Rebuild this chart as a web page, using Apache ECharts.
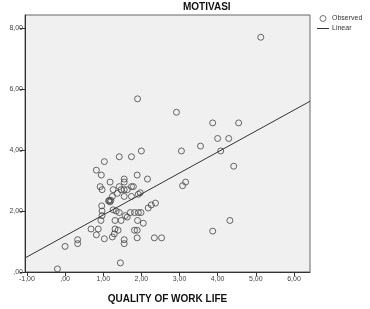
<!DOCTYPE html>
<html>
<head>
<meta charset="utf-8">
<script src="https://cdn.jsdelivr.net/npm/echarts@6/dist/echarts.min.js"></script>
<style>
  html, body { margin: 0; padding: 0; background: #fff; }
  #chart { width: 370px; height: 309px; }
</style>
</head>
<body>
<div id="chart"></div>
<script>
// observed points: [quality of work life, motivasi]
const observed = [
  [-0.2, 0.1], [0.0, 0.84], [0.33, 1.06], [0.33, 0.93], [1.45, 0.3],
  [1.03, 3.62], [1.42, 3.78], [1.74, 3.78], [0.82, 3.34], [0.95, 3.18],
  [1.18, 2.95], [1.55, 3.05], [1.55, 2.95], [1.89, 3.18], [2.16, 3.05],
  [0.92, 2.8], [0.97, 2.7], [1.26, 2.7], [1.42, 2.8], [1.47, 2.7],
  [1.55, 2.7], [1.63, 2.7], [1.74, 2.8], [1.79, 2.8], [1.37, 2.58],
  [1.55, 2.48], [1.74, 2.48], [1.92, 2.55], [1.97, 2.6], [1.24, 2.48],
  [1.2, 2.35], [1.16, 2.35], [1.14, 2.33], [1.18, 2.3], [0.96, 2.17],
  [0.97, 2.0], [0.97, 1.85], [0.94, 1.69], [1.26, 2.04], [1.34, 2.0],
  [1.42, 1.95], [1.31, 1.69], [1.47, 1.69], [1.58, 1.85], [1.71, 1.95],
  [1.82, 1.95], [1.92, 1.95], [1.99, 1.95], [1.63, 1.8], [1.9, 1.69],
  [2.05, 1.6], [2.18, 2.1], [2.26, 2.2], [2.37, 2.26], [0.68, 1.41],
  [0.87, 1.41], [0.82, 1.22], [1.03, 1.09], [1.29, 1.25], [1.24, 1.15],
  [1.31, 1.41], [1.39, 1.37], [1.55, 1.06], [1.55, 0.93], [1.82, 1.37],
  [1.89, 1.37], [1.89, 1.12], [2.34, 1.12], [2.53, 1.12],
  [1.9, 5.68], [2.92, 5.24], [5.13, 7.7], [3.87, 4.89], [4.55, 4.89],
  [4.0, 4.38], [4.29, 4.38], [3.55, 4.13], [3.05, 3.97], [2.0, 3.97],
  [4.08, 3.97], [4.42, 3.47], [3.08, 2.83], [3.16, 2.95], [4.32, 1.69],
  [3.87, 1.34]
];
// linear fit line, ends read at the plot edges
const fitLine = [[-1.05, 0.46], [6.42, 5.6]];
const xTicks = [-1, 0, 1, 2, 3, 4, 5, 6];
const yTicks = [0, 2, 4, 6, 8];

const fmt = (v) => v === 0 ? ',00' : v.toFixed(2).replace('.', ',');

const myChart = echarts.init(document.getElementById('chart'));

const options = {
  animation: false,
  textStyle: { fontFamily: 'Liberation Sans, Arial, sans-serif' },
  title: {
    text: 'MOTIVASI',
    left: 183,
    top: 2,
    padding: 0,
    textStyle: { fontSize: 10, fontWeight: 'bold', color: '#111' }
  },
  legend: {
    orient: 'vertical',
    left: 317,
    top: 15,
    padding: 0,
    itemGap: 3,
    itemWidth: 12,
    itemHeight: 6,
    textStyle: { fontSize: 7, color: '#333', padding: [0, 0, 0, -2] },
    data: [
      { name: 'Observed', icon: 'circle', itemStyle: { color: 'rgba(0,0,0,0)', borderColor: '#555', borderWidth: 1 } },
      { name: 'Linear', icon: 'path://M0,0 L12,0 L12,1 L0,1 Z', itemStyle: { color: '#333' } }
    ]
  },
  grid: {
    left: 25,
    top: 15,
    width: 285,
    height: 266,
    show: true,
    backgroundColor: '#f0f0f0',
    borderColor: '#666',
    borderWidth: 1
  },
  xAxis: {
    type: 'value',
    min: -1.05,
    max: 6.42,
    name: 'QUALITY OF WORK LIFE',
    nameLocation: 'middle',
    nameGap: 22,
    nameTextStyle: { fontSize: 10, fontWeight: 'bold', color: '#111' },
    axisLine: { show: true, onZero: false, lineStyle: { color: '#333' } },
    axisTick: { show: true, length: 4, customValues: xTicks, lineStyle: { color: '#333' } },
    axisLabel: { fontSize: 7, color: '#444', margin: 4, customValues: xTicks, formatter: fmt },
    splitLine: { show: false }
  },
  yAxis: {
    type: 'value',
    min: 0,
    max: 8.43,
    axisLine: { show: true, onZero: false, lineStyle: { color: '#333' } },
    axisTick: { show: true, length: 5, customValues: yTicks, lineStyle: { color: '#333' } },
    axisLabel: { fontSize: 7, color: '#444', margin: 2, customValues: yTicks, formatter: fmt },
    splitLine: { show: false }
  },
  series: [
    {
      name: 'Observed',
      type: 'scatter',
      symbol: 'circle',
      symbolSize: 6,
      itemStyle: { color: 'rgba(0,0,0,0)', borderColor: '#444', borderWidth: 1 },
      data: observed
    },
    {
      name: 'Linear',
      type: 'line',
      symbol: 'none',
      lineStyle: { color: '#333', width: 1 },
      itemStyle: { color: '#333' },
      data: fitLine
    }
  ]
};

myChart.setOption(options);
</script>
</body>
</html>
